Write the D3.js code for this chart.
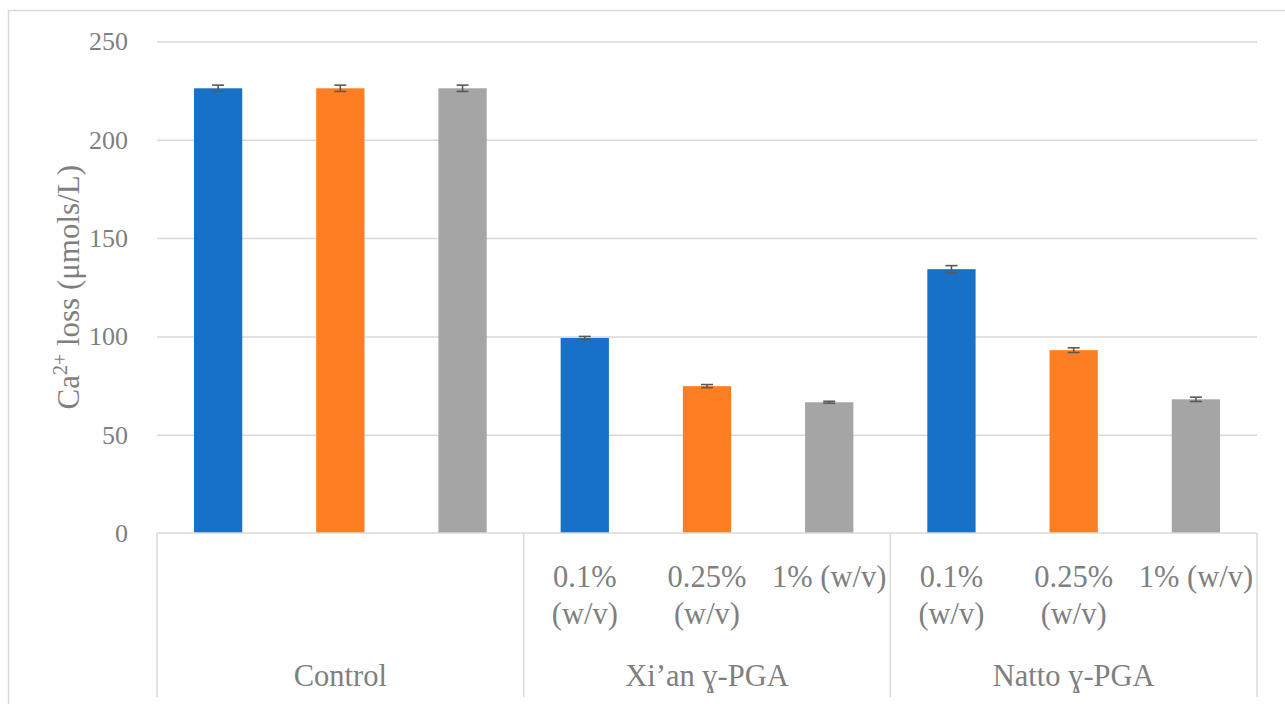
<!DOCTYPE html>
<html>
<head>
<meta charset="utf-8">
<script src="https://cdn.jsdelivr.net/npm/d3@7"></script>
<style>
  html, body { margin: 0; padding: 0; background: #fff; }
  svg text { font-family: "Liberation Serif", "DejaVu Serif", serif; fill: #7f7f7f; }
</style>
</head>
<body>
<svg id="chart" width="1285" height="704"></svg>
<script>
// Treatment groups and dose levels on the two-level category axis
const groups = ["Control", "Xi’an ɣ-PGA", "Natto ɣ-PGA"];
const doses = ["0.1% (w/v)", "0.25% (w/v)", "1% (w/v)"];
const groupShowsDoses = [false, true, true];

// Ca2+ loss (µmol/L) per dose, one array per group
const lossControl = [226.2, 226.2, 226.2];
const lossXian = [99.2, 74.7, 66.5];
const lossNatto = [134.2, 93.0, 68.0];

// Standard errors
const errControl = [1.6, 1.6, 1.6];
const errXian = [0.8, 0.8, 0.5];
const errNatto = [1.8, 1.2, 1.1];

const yTicks = [0, 50, 100, 150, 200, 250];
const doseColors = ["#1771c6", "#fe7f23", "#a5a5a5"];

const lossByGroup = [lossControl, lossXian, lossNatto];
const errByGroup = [errControl, errXian, errNatto];
const bars = [];
groups.forEach((g, gi) => doses.forEach((d, di) => bars.push({
  group: g, dose: d, value: lossByGroup[gi][di], err: errByGroup[gi][di], di
})));

const svg = d3.select("#chart");
const plot = { left: 157, right: 1257, top: 41.5, bottom: 533 };
const gridColor = "#d9d9d9";

// Outer chart frame
svg.append("rect")
  .attr("x", 8.5).attr("y", 10.5).attr("width", 1300).attr("height", 720)
  .attr("fill", "none").attr("stroke", gridColor).attr("stroke-width", 1.5);

const x0 = d3.scaleBand().domain(groups).range([plot.left, plot.right]);
const x1 = d3.scaleBand().domain(doses).range([0, x0.bandwidth()])
  .paddingInner(0.605).paddingOuter(0.3025);
const y = d3.scaleLinear().domain([0, 250]).range([plot.bottom, plot.top]);

// Value axis with gridlines
const yAxis = svg.append("g")
  .attr("transform", `translate(${plot.left},0)`)
  .call(d3.axisLeft(y).tickValues(yTicks).tickSize(-(plot.right - plot.left)).tickPadding(29));
yAxis.select(".domain").remove();
yAxis.selectAll(".tick line").attr("stroke", gridColor).attr("stroke-width", 1.5)
  .filter(d => d === 0).remove();
yAxis.selectAll(".tick text").attr("font-size", 26).attr("fill", "#7f7f7f")
  .attr("font-family", "Liberation Serif, serif");

// Bars
svg.append("g").selectAll("rect").data(bars).join("rect")
  .attr("x", d => x0(d.group) + x1(d.dose))
  .attr("width", x1.bandwidth())
  .attr("y", d => y(d.value))
  .attr("height", d => y(0) - y(d.value))
  .attr("fill", d => doseColors[d.di]);

// Error bars
const eb = svg.append("g").attr("stroke", "#595959").attr("stroke-width", 1.6);
bars.forEach(d => {
  const cx = x0(d.group) + x1(d.dose) + x1.bandwidth() / 2;
  eb.append("line").attr("x1", cx).attr("x2", cx).attr("y1", y(d.value + d.err)).attr("y2", y(d.value - d.err));
  [d.value + d.err, d.value - d.err].forEach(v =>
    eb.append("line").attr("x1", cx - 6).attr("x2", cx + 6).attr("y1", y(v)).attr("y2", y(v)));
});

// Category axis: baseline and group separators
const axisG = svg.append("g").attr("stroke", gridColor).attr("stroke-width", 1.5);
axisG.append("line").attr("x1", plot.left).attr("x2", plot.right)
  .attr("y1", plot.bottom).attr("y2", plot.bottom);
const sepBottom = 697;
groups.concat([null]).forEach(g => {
  const xx = g === null ? plot.right : x0(g);
  axisG.append("line").attr("x1", xx).attr("x2", xx).attr("y1", plot.bottom).attr("y2", sepBottom);
});

// Dose labels, wrapped to the slot width
const labelSize = 30.5;
groups.forEach((g, gi) => {
  if (!groupShowsDoses[gi]) return;
  doses.forEach(d => {
    const cx = x0(g) + x1(d) + x1.bandwidth() / 2;
    const t = svg.append("text").attr("x", cx).attr("y", 587)
      .attr("text-anchor", "middle").attr("font-size", labelSize).text(d);
    if (t.node().getComputedTextLength() > x1.step() - 4) {
      const words = d.split(" ");
      t.text(null);
      words.forEach((w, wi) => t.append("tspan").attr("x", cx).attr("y", 587 + wi * 37).text(w));
    }
  });
});

// Group labels
svg.append("g").selectAll("text").data(groups).join("text")
  .attr("x", g => x0(g) + x0.bandwidth() / 2)
  .attr("y", 686)
  .attr("text-anchor", "middle")
  .attr("font-size", labelSize)
  .text(g => g);

// Value axis title
const title = svg.append("text")
  .attr("transform", `translate(79,${(plot.top + plot.bottom) / 2}) rotate(-90)`)
  .attr("text-anchor", "middle")
  .attr("font-size", 31);
title.append("tspan").text("Ca");
title.append("tspan").attr("font-size", 20).attr("dy", -12).text("2+");
title.append("tspan").attr("dy", 12).text(" loss (μmols/L)");
</script>
</body>
</html>
